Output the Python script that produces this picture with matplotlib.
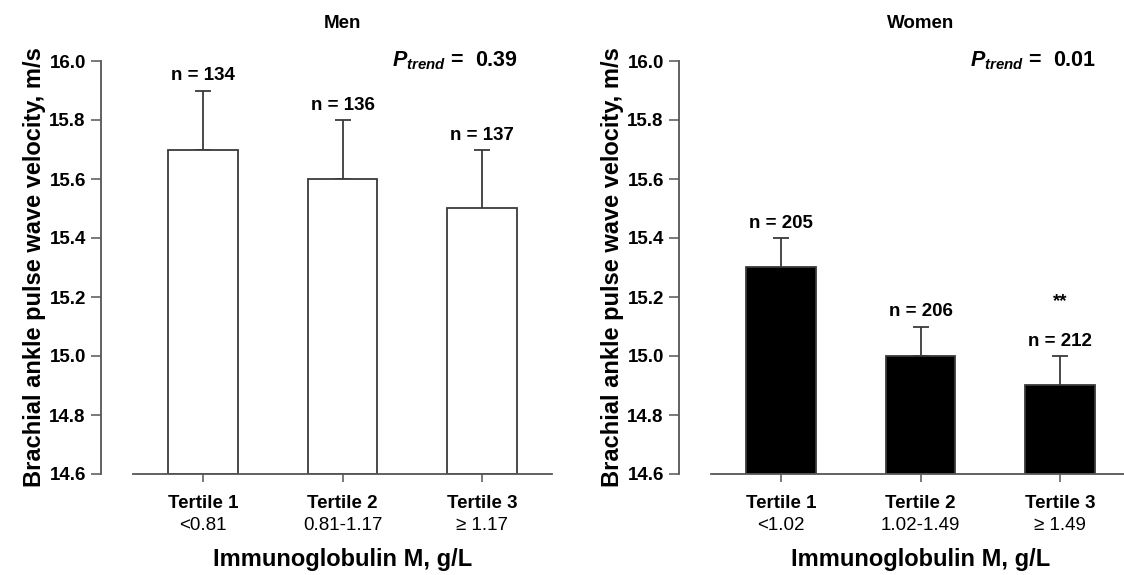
import matplotlib
matplotlib.use("Agg")
import matplotlib.pyplot as plt
import numpy as np

# ---- data ----
tertiles = ["Tertile 1", "Tertile 2", "Tertile 3"]
men_ranges = ["<0.81", "0.81-1.17", "\u2265 1.17"]
women_ranges = ["<1.02", "1.02-1.49", "\u2265 1.49"]
men_values = [15.7, 15.6, 15.5]
men_err = [0.2, 0.2, 0.2]
men_n = [134, 136, 137]
women_values = [15.3, 15.0, 14.9]
women_err = [0.1, 0.1, 0.1]
women_n = [205, 206, 212]
men_p = "0.39"
women_p = "0.01"
yticks = [14.6, 14.8, 15.0, 15.2, 15.4, 15.6, 15.8, 16.0]

plt.rcParams['font.family'] = ['Liberation Sans', 'DejaVu Sans']
plt.rcParams['mathtext.fontset'] = 'custom'
plt.rcParams['mathtext.it'] = 'Liberation Sans:italic:bold'
plt.rcParams['mathtext.rm'] = 'Liberation Sans:bold'

W, H = 1124, 575
fig = plt.figure(figsize=(W / 100, H / 100), dpi=100)

edge = '#3a3a3a'
spine_c = '#555555'
AX_TOP, AX_BOT = 61, 474


def panel(left_px, title, values, errs, ns, ranges, fill, pval, stars=None):
    ax = fig.add_axes([left_px / W, 1 - AX_BOT / H, 419 / W, (AX_BOT - AX_TOP) / H])
    x = np.arange(len(values))
    ax.bar(x, np.array(values) - 14.6, bottom=14.6, width=0.5, color=fill,
           edgecolor=edge, linewidth=1.3, zorder=2)
    ax.errorbar(x, values, yerr=[np.zeros(len(errs)), errs], fmt='none',
                ecolor=edge, elinewidth=1.3, capsize=5.5, capthick=1.3, zorder=1)
    ax.set_xlim(-0.5, 2.5)
    ax.set_ylim(14.6, 16.0)
    for s in ['top', 'right']:
        ax.spines[s].set_visible(False)
    ax.spines['left'].set_position(('outward', 23))
    for s in ['left', 'bottom']:
        ax.spines[s].set_color(spine_c)
        ax.spines[s].set_linewidth(1.3)
    ax.set_yticks(yticks)
    ax.set_yticklabels([f"{v:.1f}" for v in yticks], fontsize=13.5, fontweight='bold')
    ax.tick_params(axis='y', direction='out', length=7, width=1.1, color=spine_c, pad=4)
    ax.set_xticks(x)
    ax.set_xticklabels(tertiles, fontsize=13.5, fontweight='bold')
    ax.tick_params(axis='x', direction='out', length=6, width=1.1, color=spine_c, pad=9)
    for xi, r in zip(x, ranges):
        ax.annotate(r, xy=(xi, 0), xycoords=('data', 'axes fraction'),
                    xytext=(0, -51), textcoords='offset pixels',
                    ha='center', va='center', fontsize=13.5)
    for xi, v, e, n in zip(x, values, errs, ns):
        ax.annotate(f"n = {n}", xy=(xi, v + e), xytext=(0, 6), textcoords='offset pixels',
                    ha='center', va='bottom', fontsize=13.5, fontweight='bold')
    if stars is not None:
        xi, txt = stars
        ax.annotate(txt, xy=(xi, values[xi] + errs[xi]), xytext=(0, 54),
                    textcoords='offset pixels', ha='center', va='center',
                    fontsize=13.5, fontweight='bold')
    ax.text(2.26, 16.0, r"$P_{trend}$" + " =  " + pval, ha='right', va='center',
            fontsize=15.5, fontweight='bold')
    ax.annotate(title, xy=(0.5, 1), xycoords='axes fraction', xytext=(0, 38),
                textcoords='offset pixels', ha='center', va='center',
                fontsize=13.5, fontweight='bold')
    ax.set_xlabel("Immunoglobulin M, g/L", fontsize=17, fontweight='bold', labelpad=26)
    ax.set_ylabel("Brachial ankle pulse wave velocity, m/s", fontsize=17,
                  fontweight='bold', labelpad=2)
    return ax


panel(133, "Men", men_values, men_err, men_n, men_ranges, 'white', men_p)
panel(711, "Women", women_values, women_err, women_n, women_ranges, 'black', women_p,
      stars=(2, "**"))

fig.savefig("out.png", dpi=100)
